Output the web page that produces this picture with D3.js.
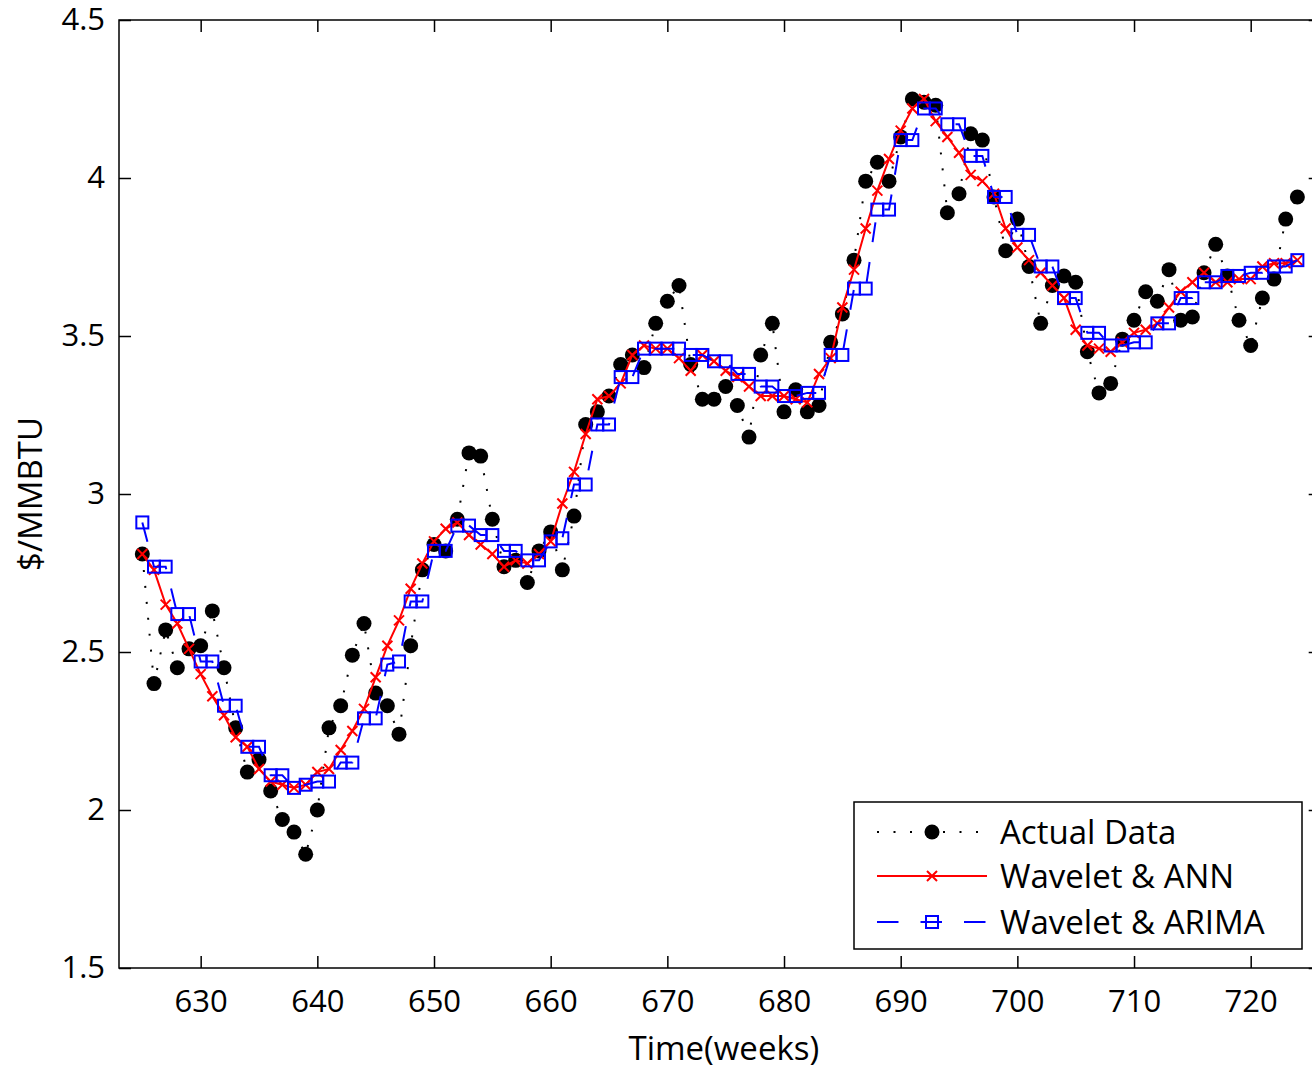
<!DOCTYPE html>
<html>
<head>
<meta charset="utf-8">
<title>gas price forecast</title>
<script src="https://d3js.org/d3.v7.min.js"></script>
<style>
  body { margin: 0; background: #fff; }
  text { font-family: "Open Sans", sans-serif; fill: #000; }
  .tick line { stroke: #000; stroke-width: 1.5; }
</style>
</head>
<body>
<div id="chart"></div>
<script>
// weeks 625 .. 724
var weeks = d3.range(625, 725);

var actual = [2.81, 2.40, 2.57, 2.45, 2.51, 2.52, 2.63, 2.45, 2.26, 2.12,
              2.16, 2.06, 1.97, 1.93, 1.86, 2.00, 2.26, 2.33, 2.49, 2.59,
              2.37, 2.33, 2.24, 2.52, 2.76, 2.84, 2.82, 2.92, 3.13, 3.12,
              2.92, 2.77, 2.79, 2.72, 2.82, 2.88, 2.76, 2.93, 3.22, 3.26,
              3.31, 3.41, 3.44, 3.40, 3.54, 3.61, 3.66, 3.41, 3.30, 3.30,
              3.34, 3.28, 3.18, 3.44, 3.54, 3.26, 3.33, 3.26, 3.28, 3.48,
              3.57, 3.74, 3.99, 4.05, 3.99, 4.13, 4.25, 4.24, 4.23, 3.89,
              3.95, 4.14, 4.12, 3.94, 3.77, 3.87, 3.72, 3.54, 3.66, 3.69,
              3.67, 3.45, 3.32, 3.35, 3.49, 3.55, 3.64, 3.61, 3.71, 3.55,
              3.56, 3.70, 3.79, 3.69, 3.55, 3.47, 3.62, 3.68, 3.87, 3.94];

var ann = [2.81, 2.76, 2.65, 2.59, 2.51, 2.43, 2.36, 2.30, 2.23, 2.20,
           2.13, 2.09, 2.08, 2.07, 2.08, 2.12, 2.13, 2.19, 2.25, 2.32,
           2.42, 2.52, 2.60, 2.70, 2.78, 2.85, 2.89, 2.91, 2.87, 2.84,
           2.81, 2.77, 2.79, 2.78, 2.81, 2.85, 2.97, 3.07, 3.19, 3.30,
           3.31, 3.35, 3.44, 3.47, 3.46, 3.46, 3.43, 3.39, 3.44, 3.42,
           3.39, 3.37, 3.34, 3.31, 3.31, 3.31, 3.30, 3.29, 3.38, 3.43,
           3.59, 3.71, 3.84, 3.96, 4.06, 4.15, 4.22, 4.25, 4.18, 4.13,
           4.08, 4.01, 3.99, 3.95, 3.84, 3.78, 3.74, 3.70, 3.66, 3.62,
           3.52, 3.47, 3.46, 3.45, 3.48, 3.51, 3.52, 3.54, 3.59, 3.64,
           3.67, 3.70, 3.67, 3.67, 3.68, 3.68, 3.72, 3.73, 3.73, 3.74];

var arima = [2.91, 2.77, 2.77, 2.62, 2.62, 2.47, 2.47, 2.33, 2.33, 2.20,
             2.20, 2.11, 2.11, 2.07, 2.08, 2.09, 2.09, 2.15, 2.15, 2.29,
             2.29, 2.46, 2.47, 2.66, 2.66, 2.82, 2.82, 2.90, 2.90, 2.87,
             2.87, 2.82, 2.82, 2.79, 2.79, 2.85, 2.86, 3.03, 3.03, 3.22,
             3.22, 3.37, 3.37, 3.46, 3.46, 3.46, 3.46, 3.44, 3.44, 3.42,
             3.42, 3.38, 3.38, 3.34, 3.34, 3.31, 3.31, 3.32, 3.32, 3.44,
             3.44, 3.65, 3.65, 3.90, 3.90, 4.12, 4.12, 4.22, 4.22, 4.17,
             4.17, 4.07, 4.07, 3.94, 3.94, 3.82, 3.82, 3.72, 3.72, 3.62,
             3.62, 3.51, 3.51, 3.47, 3.47, 3.48, 3.48, 3.54, 3.54, 3.62,
             3.62, 3.67, 3.67, 3.69, 3.69, 3.70, 3.70, 3.72, 3.72, 3.74];

var xTicks = [630, 640, 650, 660, 670, 680, 690, 700, 710, 720];
var yTicks = [1.5, 2, 2.5, 3, 3.5, 4, 4.5];

var legendNames = ["Actual Data", "Wavelet & ANN", "Wavelet & ARIMA"];

var W = 1312, H = 1069;
var pLeft = 119, pTop = 20, pBottom = 968;
var pRight = pLeft + 103 * 11.667;   // axes box runs a little past the picture edge

var x = d3.scaleLinear().domain([623, 726]).range([pLeft, pRight]);
var y = d3.scaleLinear().domain([1.5, 4.5]).range([pBottom, pTop]);

var svg = d3.select("#chart").append("svg")
    .attr("width", W)
    .attr("height", H);

svg.append("defs").append("clipPath").attr("id", "plotclip")
  .append("rect")
    .attr("x", pLeft).attr("y", pTop)
    .attr("width", pRight - pLeft).attr("height", pBottom - pTop);

// axes (ticks point inward on all four sides)
svg.append("g")
    .attr("transform", "translate(0," + pBottom + ")")
    .call(d3.axisBottom(x).tickValues(xTicks).tickSize(-12).tickPadding(22))
    .attr("font-size", 31)
    .attr("font-family", "'Open Sans', sans-serif")
    .call(function(g) { g.select(".domain").remove(); });

svg.append("g")
    .attr("transform", "translate(" + pLeft + ",0)")
    .call(d3.axisLeft(y).tickValues(yTicks).tickSize(-12).tickPadding(14)
      .tickFormat(function(d) { return String(d); }))
    .attr("font-size", 31)
    .attr("font-family", "'Open Sans', sans-serif")
    .call(function(g) { g.select(".domain").remove(); });

svg.append("g")
    .attr("transform", "translate(0," + pTop + ")")
    .call(d3.axisTop(x).tickValues(xTicks).tickSize(-12).tickFormat(""))
    .call(function(g) { g.select(".domain").remove(); });

svg.append("g")
    .attr("transform", "translate(" + pRight + ",0)")
    .call(d3.axisRight(y).tickValues(yTicks).tickSize(-12).tickFormat(""))
    .call(function(g) { g.select(".domain").remove(); });

svg.append("rect")
    .attr("x", pLeft).attr("y", pTop)
    .attr("width", pRight - pLeft).attr("height", pBottom - pTop)
    .attr("fill", "none")
    .attr("stroke", "#000")
    .attr("stroke-width", 1.5);

// axis titles
svg.append("text")
    .attr("x", (pLeft + pRight) / 2 + 4)
    .attr("y", 1060)
    .attr("text-anchor", "middle")
    .attr("font-size", 33)
    .text("Time(weeks)");

svg.append("text")
    .attr("transform", "translate(42," + ((pTop + pBottom) / 2) + ")rotate(-90)")
    .attr("text-anchor", "middle")
    .attr("font-size", 33)
    .text("$/MMBTU");

// series
var plot = svg.append("g").attr("clip-path", "url(#plotclip)");

function line(vals) {
  return d3.line()
    .x(function(d, i) { return x(weeks[i]); })
    .y(function(d) { return y(d); })(vals);
}

plot.append("path")
    .attr("d", line(actual))
    .attr("fill", "none")
    .attr("stroke", "#000")
    .attr("stroke-width", 2)
    .attr("stroke-dasharray", "2,14");

plot.selectAll(".dot")
    .data(actual)
    .enter().append("circle")
    .attr("cx", function(d, i) { return x(weeks[i]); })
    .attr("cy", function(d) { return y(d); })
    .attr("r", 7.5)
    .attr("fill", "#000");

plot.append("path")
    .attr("d", line(ann))
    .attr("fill", "none")
    .attr("stroke", "#ff0000")
    .attr("stroke-width", 2);

var cross = "M-5,-5L5,5M-5,5L5,-5";
plot.selectAll(".cross")
    .data(ann)
    .enter().append("path")
    .attr("d", cross)
    .attr("transform", function(d, i) { return "translate(" + x(weeks[i]) + "," + y(d) + ")"; })
    .attr("stroke", "#ff0000")
    .attr("stroke-width", 2)
    .attr("fill", "none");

plot.append("path")
    .attr("d", line(arima))
    .attr("fill", "none")
    .attr("stroke", "#0000ff")
    .attr("stroke-width", 2)
    .attr("stroke-dasharray", "20,20");

plot.selectAll(".sq")
    .data(arima)
    .enter().append("rect")
    .attr("x", function(d, i) { return x(weeks[i]) - 6; })
    .attr("y", function(d) { return y(d) - 6; })
    .attr("width", 12)
    .attr("height", 12)
    .attr("fill", "none")
    .attr("stroke", "#0000ff")
    .attr("stroke-width", 2);

// legend
var lg = svg.append("g");
lg.append("rect")
    .attr("x", 854).attr("y", 802)
    .attr("width", 448).attr("height", 147)
    .attr("fill", "#fff")
    .attr("stroke", "#000")
    .attr("stroke-width", 1.5);

var rowY = [832, 876, 922];

lg.append("line")
    .attr("x1", 877).attr("x2", 987).attr("y1", rowY[0]).attr("y2", rowY[0])
    .attr("stroke", "#000").attr("stroke-width", 2).attr("stroke-dasharray", "2,14.5");
lg.append("circle").attr("cx", 932).attr("cy", rowY[0]).attr("r", 7.5).attr("fill", "#000");

lg.append("line")
    .attr("x1", 877).attr("x2", 987).attr("y1", rowY[1]).attr("y2", rowY[1])
    .attr("stroke", "#ff0000").attr("stroke-width", 2);
lg.append("path").attr("d", cross)
    .attr("transform", "translate(932," + rowY[1] + ")")
    .attr("stroke", "#ff0000").attr("stroke-width", 2);

lg.append("line")
    .attr("x1", 877).attr("x2", 987).attr("y1", rowY[2]).attr("y2", rowY[2])
    .attr("stroke", "#0000ff").attr("stroke-width", 2).attr("stroke-dasharray", "21.5,22");
lg.append("rect")
    .attr("x", 926).attr("y", rowY[2] - 6).attr("width", 12).attr("height", 12)
    .attr("fill", "none").attr("stroke", "#0000ff").attr("stroke-width", 2);

lg.selectAll(".lgtext")
    .data(legendNames)
    .enter().append("text")
    .attr("x", 1000)
    .attr("y", function(d, i) { return rowY[i]; })
    .attr("dy", "0.36em")
    .attr("font-size", 33)
    .text(function(d) { return d; });
</script>
</body>
</html>
